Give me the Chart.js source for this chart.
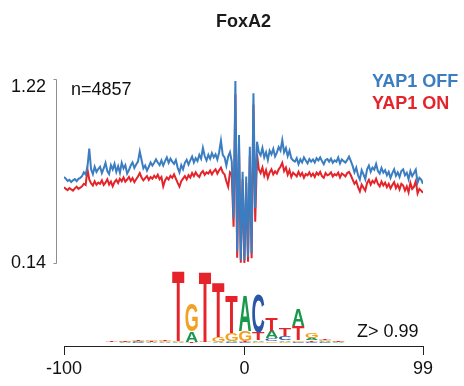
<!DOCTYPE html>
<html><head><meta charset="utf-8">
<script src="https://cdn.jsdelivr.net/npm/chart.js@4.4.1/dist/chart.umd.min.js"></script>
<style>html,body{margin:0;padding:0;background:#fff}canvas{display:block}</style>
</head><body>
<canvas id="c" width="464" height="386"></canvas>
<script>
const FONT = '"Liberation Sans", Arial, Helvetica, sans-serif';
const chartTitle = 'FoxA2';
const nLabel = 'n=4857';
const zLabel = 'Z> 0.99';
const seriesNames = ['YAP1 OFF', 'YAP1 ON'];
const xStart = -100;
const xTicks = [-100, 0, 99];
const yTicks = [0.14, 1.22];

const yap1Off = [
0.645,0.635,0.622,0.628,0.615,0.625,0.632,0.620,0.634,0.640,
0.650,0.672,0.660,0.705,0.812,0.690,0.662,0.705,0.675,0.692,
0.705,0.668,0.695,0.728,0.680,0.662,0.715,0.690,0.722,0.675,
0.708,0.670,0.728,0.695,0.715,0.665,0.685,0.712,0.730,0.698,
0.718,0.735,0.795,0.745,0.695,0.712,0.682,0.705,0.730,0.712,
0.728,0.748,0.730,0.715,0.742,0.712,0.738,0.760,0.728,0.752,
0.735,0.722,0.745,0.700,0.672,0.715,0.690,0.728,0.746,0.718,
0.742,0.765,0.730,0.755,0.738,0.775,0.752,0.815,0.768,0.742,
0.775,0.752,0.785,0.760,0.778,0.748,0.790,0.858,0.775,0.760,
0.712,0.765,0.790,0.735,0.403,1.208,0.207,0.891,0.158,0.676,
0.155,0.647,0.177,0.823,0.197,1.136,0.463,0.852,0.790,0.772,
0.815,0.760,0.790,0.745,0.800,0.778,0.810,0.765,0.788,0.820,
0.800,0.862,0.790,0.815,0.768,0.800,0.755,0.742,0.735,0.755,
0.720,0.748,0.730,0.760,0.742,0.725,0.750,0.735,0.748,0.730,
0.755,0.742,0.760,0.738,0.720,0.745,0.750,0.735,0.752,0.728,
0.742,0.735,0.760,0.725,0.748,0.738,0.730,0.745,0.765,0.738,
0.710,0.672,0.700,0.655,0.630,0.685,0.660,0.632,0.690,0.712,
0.675,0.700,0.688,0.722,0.680,0.665,0.698,0.670,0.685,0.655,
0.675,0.640,0.668,0.690,0.652,0.672,0.645,0.680,0.690,0.655,
0.670,0.632,0.680,0.650,0.668,0.688,0.612,0.640,0.630,0.605
];
const yap1On = [
0.585,0.575,0.568,0.580,0.572,0.565,0.578,0.588,0.575,0.582,
0.590,0.605,0.598,0.690,0.630,0.608,0.595,0.620,0.600,0.612,
0.605,0.625,0.598,0.612,0.632,0.600,0.618,0.590,0.615,0.628,
0.610,0.635,0.620,0.642,0.618,0.630,0.645,0.622,0.638,0.615,
0.632,0.648,0.668,0.642,0.625,0.638,0.650,0.628,0.645,0.635,
0.652,0.640,0.658,0.632,0.645,0.590,0.625,0.642,0.630,0.652,
0.640,0.660,0.635,0.610,0.588,0.620,0.635,0.650,0.630,0.655,
0.642,0.668,0.650,0.672,0.655,0.645,0.668,0.680,0.658,0.672,
0.665,0.682,0.660,0.678,0.690,0.665,0.685,0.700,0.672,0.660,
0.620,0.588,0.672,0.660,0.353,1.130,0.171,0.840,0.142,0.630,
0.140,0.610,0.148,0.770,0.168,1.070,0.383,0.780,0.690,0.668,
0.700,0.652,0.685,0.640,0.672,0.690,0.660,0.678,0.665,0.690,
0.705,0.728,0.680,0.700,0.658,0.685,0.645,0.670,0.660,0.648,
0.675,0.652,0.668,0.640,0.662,0.655,0.672,0.650,0.665,0.645,
0.670,0.658,0.675,0.650,0.640,0.668,0.655,0.660,0.672,0.648,
0.662,0.655,0.670,0.642,0.665,0.658,0.648,0.668,0.675,0.655,
0.630,0.605,0.620,0.585,0.560,0.600,0.582,0.565,0.610,0.628,
0.600,0.622,0.610,0.635,0.605,0.590,0.618,0.595,0.612,0.585,
0.605,0.578,0.598,0.615,0.580,0.600,0.572,0.605,0.595,0.565,
0.590,0.555,0.610,0.575,0.588,0.620,0.548,0.575,0.565,0.552
];

// sequence logo (information content in bits per motif position)
const logoPositions = [1,2,3,4,5,6,7,8,9,10,11,12,13,14,15,16,17,18];
const logoLetters = ['A','C','G','T'];
const bitsA = [0.010,0.015,0.020,0.020,0.020,0.020,0.300,0.010,0.020,0.030,0.960,0.040,0.200,0.050,0.460,0.060,0.030,0.015];
const bitsC = [0.010,0.010,0.015,0.010,0.010,0.010,0.010,0.010,0.010,0.020,0.020,1.050,0.080,0.100,0.030,0.030,0.020,0.010];
const bitsG = [0.010,0.015,0.015,0.050,0.020,0.020,0.760,0.020,0.140,0.220,0.280,0.030,0.050,0.040,0.040,0.160,0.030,0.015];
const bitsT = [0.015,0.015,0.020,0.030,0.050,1.950,0.020,1.960,1.520,1.050,0.030,0.220,0.340,0.220,0.400,0.040,0.030,0.015];
const logoBits = {A: bitsA, C: bitsC, G: bitsG, T: bitsT};
const letterColors = {A: '#17984a', C: '#2b55a6', G: '#f3a125', T: '#e5232a'};

const blue = '#3b7dc1';
const red = '#e3252b';

const pts = arr => arr.map((v, i) => ({x: xStart + i, y: v}));

const annot = {
  id: 'annot',
  afterDraw(chart) {
    const ctx = chart.ctx;
    const ca = chart.chartArea;
    const ys = chart.scales.y;
    // y-axis bracket
    ctx.save();
    ctx.strokeStyle = '#8f8f8f';
    ctx.lineWidth = 1;
    const ax = Math.round(ca.left - 8) + 0.5;
    const yt = Math.round(ys.getPixelForValue(yTicks[1])) + 0.5;
    const yb = Math.round(ys.getPixelForValue(yTicks[0])) + 0.5;
    ctx.beginPath();
    ctx.moveTo(ax - 3, yt); ctx.lineTo(ax, yt); ctx.lineTo(ax, yb); ctx.lineTo(ax - 3, yb);
    ctx.stroke();
    ctx.restore();

    // sequence logo
    const ps = chart.scales.pos, bs = chart.scales.bits;
    ctx.save();
    ctx.font = 'bold 100px ' + FONT;
    ctx.textBaseline = 'alphabetic';
    ctx.textAlign = 'left';
    logoPositions.forEach((p, i) => {
      const col = logoLetters.map(L => ({L, h: logoBits[L][i]})).sort((a, b) => a.h - b.h);
      const xl = ps.getPixelForValue(p - 0.46), xr = ps.getPixelForValue(p + 0.46);
      let cum = 0;
      col.forEach(({L, h}) => {
        const yB = bs.getPixelForValue(cum), yT = bs.getPixelForValue(cum + h);
        cum += h;
        const hh = yB - yT;
        if (hh < 0.3) return;
        const m = ctx.measureText(L);
        const gw = m.actualBoundingBoxLeft + m.actualBoundingBoxRight;
        const gh = m.actualBoundingBoxAscent + m.actualBoundingBoxDescent;
        ctx.save();
        ctx.translate(xl, yB);
        ctx.scale((xr - xl) / gw, hh / gh);
        ctx.fillStyle = letterColors[L];
        ctx.fillText(L, m.actualBoundingBoxLeft, -m.actualBoundingBoxDescent);
        ctx.restore();
      });
    });
    ctx.restore();

    // texts
    ctx.save();
    ctx.textBaseline = 'middle';
    ctx.textAlign = 'left';
    ctx.fillStyle = '#111';
    ctx.font = '18px ' + FONT;
    ctx.fillText(nLabel, 71, 90);
    ctx.fillText(zLabel, 357, 332);
    ctx.font = 'bold 18px ' + FONT;
    ctx.fillStyle = blue;
    ctx.fillText(seriesNames[0], 372, 82);
    ctx.fillStyle = red;
    ctx.fillText(seriesNames[1], 372, 104);
    ctx.restore();
  }
};

new Chart(document.getElementById('c'), {
  type: 'line',
  data: {
    datasets: [
      {label: seriesNames[1], data: pts(yap1On), borderColor: red, borderWidth: 2, pointRadius: 0, tension: 0, xAxisID: 'x', yAxisID: 'y', order: 2},
      {label: seriesNames[0], data: pts(yap1Off), borderColor: blue, borderWidth: 2, pointRadius: 0, tension: 0, xAxisID: 'x', yAxisID: 'y', order: 1}
    ]
  },
  options: {
    responsive: false,
    devicePixelRatio: 1,
    animation: false,
    layout: {padding: {left: 0, right: 41, top: 0, bottom: 0}},
    plugins: {
      legend: {display: false},
      tooltip: {enabled: false},
      title: {display: true, text: chartTitle, fullSize: false, color: '#1a1a1a',
        font: {family: FONT, size: 18, weight: 'bold'}, padding: {top: 11, bottom: 46.4}}
    },
    scales: {
      x: {
        type: 'linear', position: 'bottom', min: -100, max: 99,
        afterBuildTicks: s => { s.ticks = xTicks.map(v => ({value: v})); },
        afterFit: s => { s.height = 40; },
        ticks: {color: '#111', font: {family: FONT, size: 18}, padding: 3, maxRotation: 0, callback: v => String(v)},
        grid: {display: true, drawOnChartArea: false, drawTicks: true, tickLength: 9, color: '#222', tickColor: '#222'},
        border: {display: true, color: '#222', width: 1}
      },
      y: {
        type: 'linear', position: 'left', min: -0.347, max: 1.22,
        afterBuildTicks: s => { s.ticks = yTicks.map(v => ({value: v})); },
        afterFit: s => { s.width = 64; },
        ticks: {color: '#111', font: {family: FONT, size: 18, lineHeight: 0.9}, padding: 18,
          callback: (v, i) => i === yTicks.length - 1 ? ['', Number(v).toFixed(2)] : Number(v).toFixed(2)},
        grid: {display: false, drawTicks: false},
        border: {display: false}
      },
      pos: {type: 'linear', position: 'bottom', display: false, min: -2.578, max: 24.35},
      bits: {type: 'linear', position: 'left', display: false, min: -0.0833, max: 7.333}
    }
  },
  plugins: [annot]
});
</script>
</body></html>
